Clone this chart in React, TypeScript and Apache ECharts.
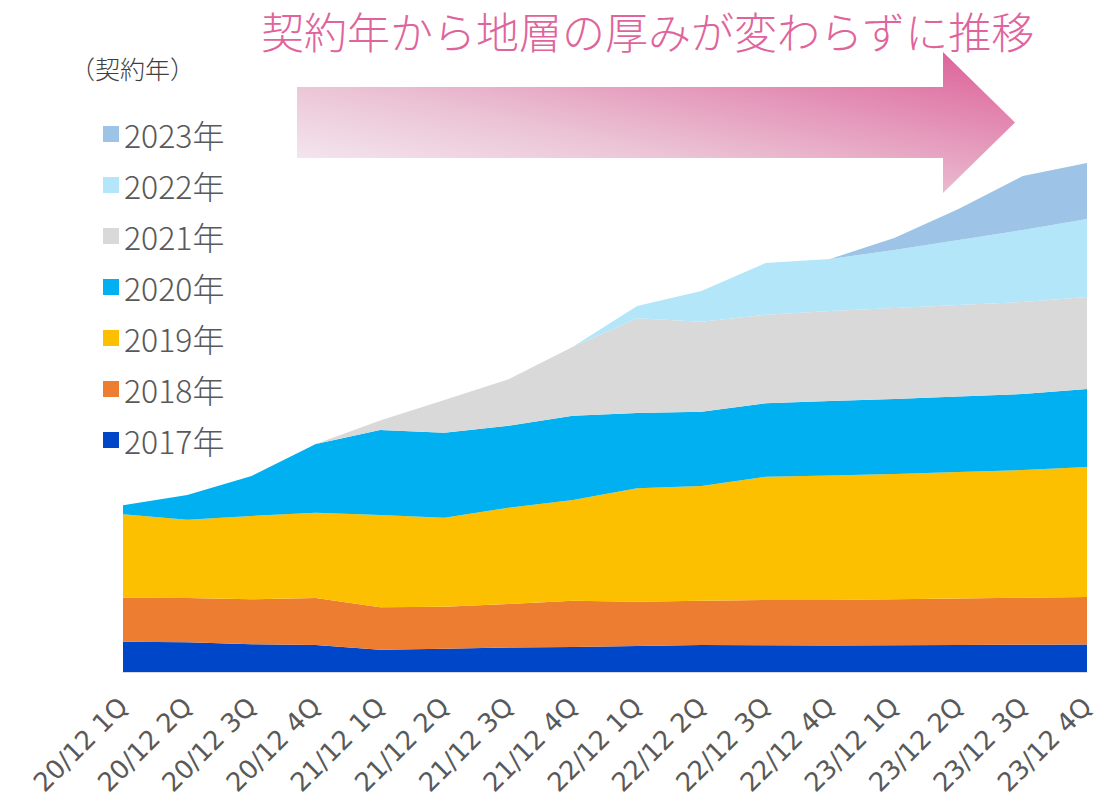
import React, { useEffect, useRef } from "react";
import * as echarts from "echarts";

const categories = [
  "20/12 1Q", "20/12 2Q", "20/12 3Q", "20/12 4Q",
  "21/12 1Q", "21/12 2Q", "21/12 3Q", "21/12 4Q",
  "22/12 1Q", "22/12 2Q", "22/12 3Q", "22/12 4Q",
  "23/12 1Q", "23/12 2Q", "23/12 3Q", "23/12 4Q",
];

const seriesNames = ["2017年", "2018年", "2019年", "2020年", "2021年", "2022年", "2023年"];

const v2017 = [30.3, 29.7, 27.7, 27, 22.3, 23.3, 24.5, 25, 26, 27, 26.7, 26.5, 26.7, 27, 27.2, 27.5];
const v2018 = [44, 44.3, 45, 47, 42.4, 42, 43.5, 46.3, 44.3, 44.3, 45.3, 45.5, 46, 46.4, 47, 47.5];
const v2019 = [83.4, 78.3, 83.3, 85.3, 92.3, 89, 96.3, 100.7, 113.4, 114.7, 123.3, 124.5, 125.3, 126.6, 127.8, 130];
const v2020 = [9, 24.7, 40, 68.7, 85, 85, 82, 84.3, 75.3, 74.3, 73.4, 74.5, 75, 75.5, 76, 78];
const v2021 = [0, 0, 0, 0, 9.5, 32.7, 46.4, 69, 94.7, 90, 88.6, 90, 91, 91.5, 92, 92];
const v2022 = [0, 0, 0, 0, 0, 0, 0, 0, 12.3, 30.7, 51.7, 52, 58, 65, 72, 78];
const v2023 = [0, 0, 0, 0, 0, 0, 0, 0, 0, 0, 0, 0, 12, 31, 54, 56];

const seriesValues = [v2017, v2018, v2019, v2020, v2021, v2022, v2023];
const seriesColors = ["#0046C8", "#ED7D31", "#FDC000", "#00B0F0", "#D9D9D9", "#B3E6F8", "#9DC3E6"];

const titleText = "契約年から地層の厚みが変わらずに推移";
const legendTitle = "（契約年）";

const FONT = '"Noto Sans CJK JP", "Noto Sans", sans-serif';

export default function App() {
  const ref = useRef<HTMLDivElement>(null);

  useEffect(() => {
    if (!ref.current) return;
    const chart = echarts.init(ref.current, undefined, { renderer: "svg" });

    const series = seriesNames.map((name, i) => ({
      name,
      type: "line",
      stack: "total",
      data: seriesValues[i],
      symbol: "none",
      showSymbol: false,
      lineStyle: { width: 0 },
      itemStyle: { color: seriesColors[i] },
      areaStyle: { color: seriesColors[i], opacity: 1 },
      emphasis: { disabled: true },
    }));

    chart.setOption({
      animation: false,
      backgroundColor: "#ffffff",
      textStyle: { fontFamily: FONT },
      grid: { left: 123, right: 32, top: 152, bottom: 138, containLabel: false },
      legend: {
        data: [...seriesNames].reverse(),
        orient: "vertical",
        left: 98,
        top: 113,
        itemWidth: 16,
        itemHeight: 16,
        itemGap: 19,
        icon: "rect",
        selectedMode: false,
        textStyle: {
          fontSize: 32,
          lineHeight: 30,
          color: "#595959",
          fontFamily: FONT,
          fontWeight: 300,
        },
      },
      xAxis: {
        type: "category",
        data: categories,
        boundaryGap: false,
        axisLine: { show: true, lineStyle: { color: "#D9D9D9", width: 1 } },
        axisTick: { show: false },
        axisLabel: {
          rotate: 45,
          margin: 30,
          fontSize: 26,
          color: "#595959",
          fontFamily: '"DejaVu Sans", sans-serif',
          interval: 0,
        },
      },
      yAxis: {
        type: "value",
        min: 0,
        max: 520,
        show: false,
        splitLine: { show: false },
      },
      graphic: [
        {
          type: "text",
          x: 261,
          y: 30,
          style: {
            text: titleText,
            fill: "#E0649C",
            fontSize: 43,
            lineHeight: 44,
            fontWeight: 300,
            fontFamily: FONT,
            verticalAlign: "middle",
          },
        },
        {
          type: "text",
          x: 70,
          y: 68,
          style: {
            text: legendTitle,
            fill: "#404040",
            fontSize: 25,
            fontWeight: 300,
            fontFamily: FONT,
            verticalAlign: "middle",
          },
        },
        {
          type: "polygon",
          shape: {
            points: [
              [297, 87], [943, 87], [943, 52], [1015, 122.5],
              [943, 193], [943, 158], [297, 158],
            ],
          },
          style: {
            fill: new echarts.graphic.LinearGradient(
              297, 193, 350, -78,
              [
                { offset: 0, color: "#F7F4F8" },
                { offset: 0.4, color: "#EBC3D5" },
                { offset: 1, color: "#DC5D96" },
              ],
              true
            ),
          },
        },
      ],
      series,
    });

    return () => chart.dispose();
  }, []);

  return (
    <div
      ref={ref}
      style={{ position: "fixed", left: 0, top: 0, width: 1119, height: 810 }}
    />
  );
}
